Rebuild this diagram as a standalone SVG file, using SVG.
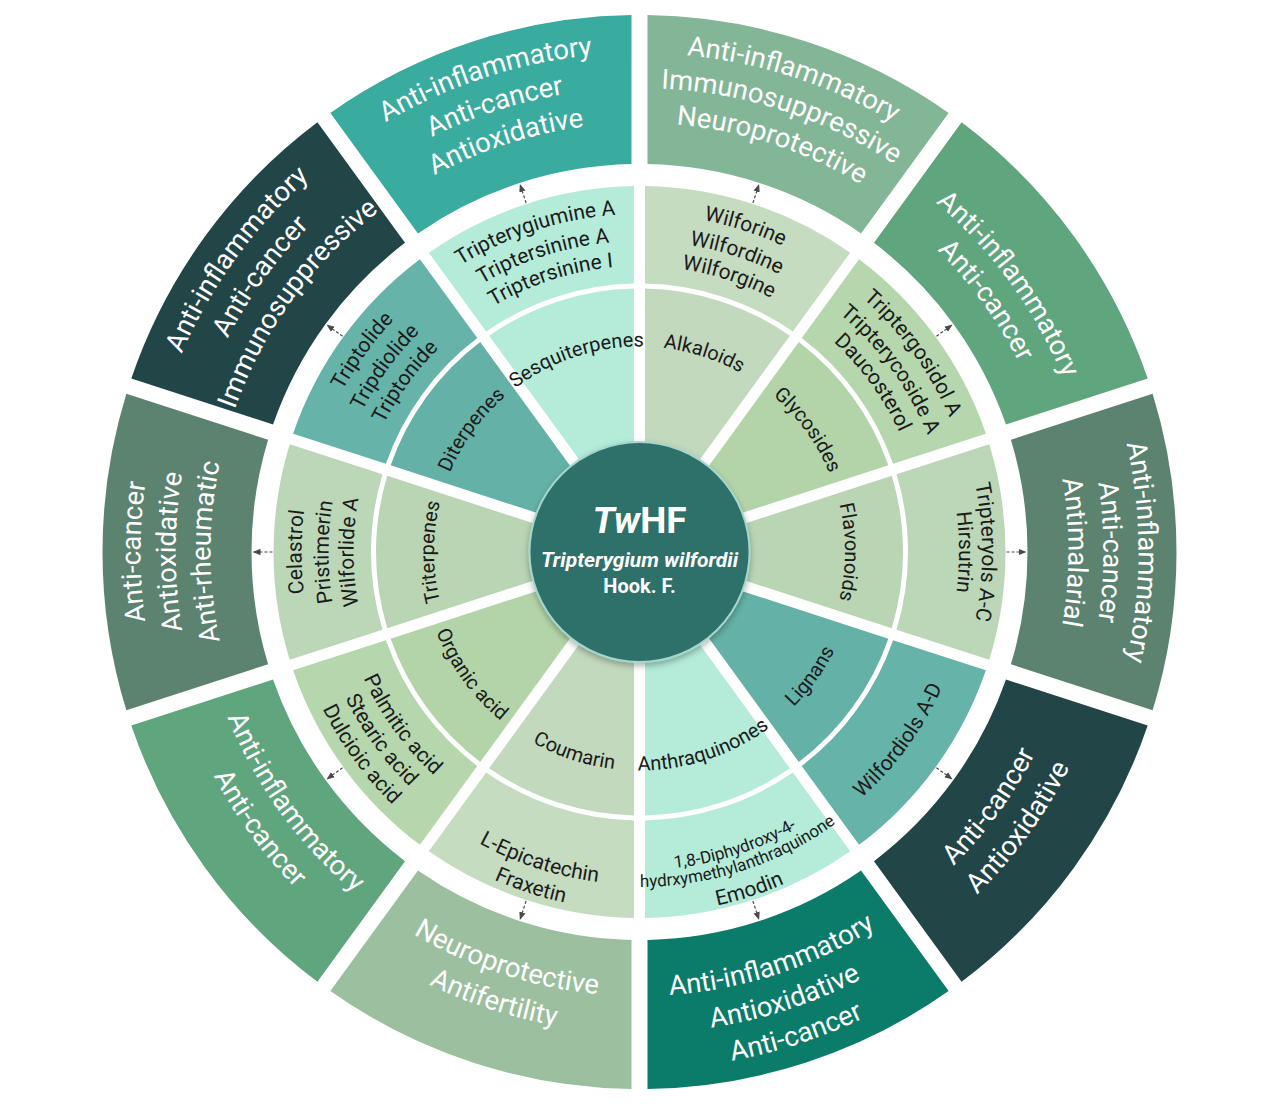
<svg xmlns="http://www.w3.org/2000/svg" width="1280" height="1107" viewBox="0 0 1280 1107">
<style>
text{font-family:Roboto,"Liberation Sans",sans-serif}
.ot{font-size:27.5px;fill:#ffffff}
.mt{font-size:21px;fill:#1b1b1b}
.st{font-size:17px;fill:#1b1b1b}
.it{font-size:20px;fill:#1b1b1b}
.arr{stroke:#4a4a4a;stroke-width:1.2;stroke-dasharray:3 2;fill:none}
</style>
<defs>
<path id="secO" d="M -158.32 -513.13 A 537 537 0 0 1 158.32 -513.13 L 112.26 -371.41 A 388 388 0 0 0 -112.26 -371.41 Z"/>
<path id="secM" d="M -107.86 -349.75 A 366 366 0 0 1 107.86 -349.75 L 77.72 -257.00 A 268.5 268.5 0 0 0 -77.72 -257.00 Z"/>
<path id="secI" d="M 0 -17.8 L 76.18 -252.25 A 263.5 263.5 0 0 0 -76.18 -252.25 Z"/>
<path id="U499" d="M -352.85 -352.85 A 499 499 0 0 1 352.85 -352.85"/>
<path id="U464" d="M -328.10 -328.10 A 464 464 0 0 1 328.10 -328.10"/>
<path id="U429" d="M -303.35 -303.35 A 429 429 0 0 1 303.35 -303.35"/>
<path id="U458" d="M -323.86 -323.86 A 458 458 0 0 1 323.86 -323.86"/>
<path id="U424" d="M -299.81 -299.81 A 424 424 0 0 1 299.81 -299.81"/>
<path id="U338" d="M -239.00 -239.00 A 338 338 0 0 1 239.00 -239.00"/>
<path id="U311" d="M -219.91 -219.91 A 311 311 0 0 1 219.91 -219.91"/>
<path id="U286" d="M -202.23 -202.23 A 286 286 0 0 1 202.23 -202.23"/>
<path id="U342" d="M -242.19 -242.19 A 342.5 342.5 0 0 1 242.19 -242.19"/>
<path id="U319" d="M -225.92 -225.92 A 319.5 319.5 0 0 1 225.92 -225.92"/>
<path id="U205" d="M -145.31 -145.31 A 205.5 205.5 0 0 1 145.31 -145.31"/>
<path id="F443" d="M -313.96 313.96 A 444 444 0 0 0 313.96 313.96"/>
<path id="F479" d="M -340.12 340.12 A 481 481 0 0 0 340.12 340.12"/>
<path id="F515" d="M -365.57 365.57 A 517 517 0 0 0 365.57 365.57"/>
<path id="F331" d="M -234.41 234.41 A 331.5 331.5 0 0 0 234.41 234.41"/>
<path id="F332" d="M -235.11 235.11 A 332.5 332.5 0 0 0 235.11 235.11"/>
<path id="F358" d="M -253.50 253.50 A 358.5 358.5 0 0 0 253.50 253.50"/>
<path id="F303" d="M -214.61 214.61 A 303.5 303.5 0 0 0 214.61 214.61"/>
<path id="F328" d="M -232.29 232.29 A 328.5 328.5 0 0 0 232.29 232.29"/>
<path id="F353" d="M -249.96 249.96 A 353.5 353.5 0 0 0 249.96 249.96"/>
<path id="F218" d="M -154.50 154.50 A 218.5 218.5 0 0 0 154.50 154.50"/>
<path id="F318" d="M -224.86 224.86 A 318 318 0 0 0 224.86 224.86"/>
<path id="F335" d="M -236.88 236.88 A 335 335 0 0 0 236.88 236.88"/>
<path id="F362" d="M -255.97 255.97 A 362 362 0 0 0 255.97 255.97"/>
<marker id="ah" viewBox="0 0 8 8" refX="7" refY="4" markerWidth="8" markerHeight="8" markerUnits="userSpaceOnUse" orient="auto">
<path d="M0,0.8 L8,4 L0,7.2 Z" fill="#4a4a4a"/>
</marker>
<filter id="sh" x="-20%" y="-20%" width="140%" height="140%">
<feDropShadow dx="0" dy="3" stdDeviation="3" flood-color="#000" flood-opacity="0.3"/>
</filter>
</defs>
<rect width="1280" height="1107" fill="#ffffff"/>
<g transform="translate(639.5 552)">
<!-- segment 0 (18deg) -->
<g id="alkaloids-activity">
<use href="#secO" transform="rotate(18)" fill="#83b697"/>
<g transform="rotate(18)" class="ot">
<text><textPath href="#U499" startOffset="50%" text-anchor="middle">Anti-inflammatory</textPath></text>
<text><textPath href="#U464" startOffset="50%" text-anchor="middle">Immunosuppressive</textPath></text>
<text><textPath href="#U429" startOffset="50%" text-anchor="middle">Neuroprotective</textPath></text>
</g>
</g>
<g id="alkaloids-compounds">
<use href="#secM" transform="rotate(18)" fill="#c6dcc1"/>
<g transform="rotate(18)" class="mt">
<text><textPath href="#U338" startOffset="50%" text-anchor="middle">Wilforine</textPath></text>
<text><textPath href="#U311" startOffset="50%" text-anchor="middle">Wilfordine</textPath></text>
<text><textPath href="#U286" startOffset="50%" text-anchor="middle">Wilforgine</textPath></text>
</g>
</g>
<g id="alkaloids">
<use href="#secI" transform="rotate(18)" fill="#c3d9be"/>
<g transform="rotate(18)" class="it"><text><textPath href="#U205" startOffset="50%" text-anchor="middle">Alkaloids</textPath></text></g>
</g>
<!-- segment 1 (54deg) -->
<g id="glycosides-activity">
<use href="#secO" transform="rotate(54)" fill="#5fa67f"/>
<g transform="rotate(54)" class="ot">
<text><textPath href="#U458" startOffset="50%" text-anchor="middle">Anti-inflammatory</textPath></text>
<text><textPath href="#U424" startOffset="50%" text-anchor="middle">Anti-cancer</textPath></text>
</g>
</g>
<g id="glycosides-compounds">
<use href="#secM" transform="rotate(54)" fill="#b6d6ad"/>
<g transform="rotate(54)" class="mt">
<text><textPath href="#U338" startOffset="50%" text-anchor="middle">Triptergosidol A</textPath></text>
<text><textPath href="#U311" startOffset="50%" text-anchor="middle">Tripterycoside A</textPath></text>
<text><textPath href="#U286" startOffset="50%" text-anchor="middle">Daucosterol</textPath></text>
</g>
</g>
<g id="glycosides">
<use href="#secI" transform="rotate(54)" fill="#b3d4a9"/>
<g transform="rotate(54)" class="it"><text><textPath href="#U205" startOffset="50%" text-anchor="middle">Glycosides</textPath></text></g>
</g>
<!-- segment 2 (90deg) -->
<g id="flavonoids-activity">
<use href="#secO" transform="rotate(90)" fill="#5b8370"/>
<g transform="rotate(90)" class="ot">
<text><textPath href="#U499" startOffset="50%" text-anchor="middle">Anti-inflammatory</textPath></text>
<text><textPath href="#U464" startOffset="50%" text-anchor="middle">Anti-cancer</textPath></text>
<text><textPath href="#U429" startOffset="50%" text-anchor="middle">Antimalarial</textPath></text>
</g>
</g>
<g id="flavonoids-compounds">
<use href="#secM" transform="rotate(90)" fill="#bcd7b8"/>
<g transform="rotate(90)" class="mt">
<text><textPath href="#U342" startOffset="50%" text-anchor="middle">Tripteryols A-C</textPath></text>
<text><textPath href="#U319" startOffset="50%" text-anchor="middle">Hirsutrin</textPath></text>
</g>
</g>
<g id="flavonoids">
<use href="#secI" transform="rotate(90)" fill="#b9d5b4"/>
<g transform="rotate(90)" class="it"><text><textPath href="#U205" startOffset="50%" text-anchor="middle">Flavonoids</textPath></text></g>
</g>
<!-- segment 3 (126deg) -->
<g id="lignans-activity">
<use href="#secO" transform="rotate(126)" fill="#224548"/>
<g transform="rotate(-54)" class="ot">
<text><textPath href="#F443" startOffset="50%" text-anchor="middle">Anti-cancer</textPath></text>
<text><textPath href="#F479" startOffset="50%" text-anchor="middle">Antioxidative</textPath></text>
</g>
</g>
<g id="lignans-compounds">
<use href="#secM" transform="rotate(126)" fill="#66b4a9"/>
<g transform="rotate(-54)" class="mt">
<text><textPath href="#F331" startOffset="50%" text-anchor="middle">Wilfordiols A-D</textPath></text>
</g>
</g>
<g id="lignans">
<use href="#secI" transform="rotate(126)" fill="#64b2a7"/>
<g transform="rotate(-54)" class="it"><text><textPath href="#F218" startOffset="50%" text-anchor="middle">Lignans</textPath></text></g>
</g>
<!-- segment 4 (162deg) -->
<g id="anthraquinones-activity">
<use href="#secO" transform="rotate(162)" fill="#0b7b6a"/>
<g transform="rotate(-18)" class="ot">
<text><textPath href="#F443" startOffset="50%" text-anchor="middle">Anti-inflammatory</textPath></text>
<text><textPath href="#F479" startOffset="50%" text-anchor="middle">Antioxidative</textPath></text>
<text><textPath href="#F515" startOffset="50%" text-anchor="middle">Anti-cancer</textPath></text>
</g>
</g>
<g id="anthraquinones-compounds">
<use href="#secM" transform="rotate(162)" fill="#b4ecd9"/>
<g transform="rotate(-18)">
<text class="st"><textPath href="#F318" startOffset="50%" text-anchor="middle">1,8-Diphydroxy-4-</textPath></text>
<text class="st"><textPath href="#F335" startOffset="50%" text-anchor="middle">hydrxymethylanthraquinone</textPath></text>
<text class="mt"><textPath href="#F362" startOffset="50%" text-anchor="middle">Emodin</textPath></text>
</g>
</g>
<g id="anthraquinones">
<use href="#secI" transform="rotate(162)" fill="#b4ecd9"/>
<g transform="rotate(-18)" class="it"><text><textPath href="#F218" startOffset="50%" text-anchor="middle">Anthraquinones</textPath></text></g>
</g>
<!-- segment 5 (198deg) -->
<g id="coumarin-activity">
<use href="#secO" transform="rotate(198)" fill="#9bbf9f"/>
<g transform="rotate(18)" class="ot">
<text><textPath href="#F443" startOffset="50%" text-anchor="middle">Neuroprotective</textPath></text>
<text><textPath href="#F479" startOffset="50%" text-anchor="middle">Antifertility</textPath></text>
</g>
</g>
<g id="coumarin-compounds">
<use href="#secM" transform="rotate(198)" fill="#c6dcc1"/>
<g transform="rotate(18)" class="mt">
<text><textPath href="#F332" startOffset="50%" text-anchor="middle">L-Epicatechin</textPath></text>
<text><textPath href="#F358" startOffset="50%" text-anchor="middle">Fraxetin</textPath></text>
</g>
</g>
<g id="coumarin">
<use href="#secI" transform="rotate(198)" fill="#c3d9be"/>
<g transform="rotate(18)" class="it"><text><textPath href="#F218" startOffset="50%" text-anchor="middle">Coumarin</textPath></text></g>
</g>
<!-- segment 6 (234deg) -->
<g id="organic-acid-activity">
<use href="#secO" transform="rotate(234)" fill="#5fa67f"/>
<g transform="rotate(54)" class="ot">
<text><textPath href="#F443" startOffset="50%" text-anchor="middle">Anti-inflammatory</textPath></text>
<text><textPath href="#F479" startOffset="50%" text-anchor="middle">Anti-cancer</textPath></text>
</g>
</g>
<g id="organic-acid-compounds">
<use href="#secM" transform="rotate(234)" fill="#b6d6ad"/>
<g transform="rotate(54)" class="mt">
<text><textPath href="#F303" startOffset="50%" text-anchor="middle">Palmitic acid</textPath></text>
<text><textPath href="#F328" startOffset="50%" text-anchor="middle">Stearic acid</textPath></text>
<text><textPath href="#F353" startOffset="50%" text-anchor="middle">Dulcioic acid</textPath></text>
</g>
</g>
<g id="organic-acid">
<use href="#secI" transform="rotate(234)" fill="#b3d4a9"/>
<g transform="rotate(54)" class="it"><text><textPath href="#F218" startOffset="50%" text-anchor="middle">Organic acid</textPath></text></g>
</g>
<!-- segment 7 (270deg) -->
<g id="triterpenes-activity">
<use href="#secO" transform="rotate(270)" fill="#5b8370"/>
<g transform="rotate(270)" class="ot">
<text><textPath href="#U499" startOffset="50%" text-anchor="middle">Anti-cancer</textPath></text>
<text><textPath href="#U464" startOffset="50%" text-anchor="middle">Antioxidative</textPath></text>
<text><textPath href="#U429" startOffset="50%" text-anchor="middle">Anti-rheumatic</textPath></text>
</g>
</g>
<g id="triterpenes-compounds">
<use href="#secM" transform="rotate(270)" fill="#bcd7b8"/>
<g transform="rotate(270)" class="mt">
<text><textPath href="#U338" startOffset="50%" text-anchor="middle">Celastrol</textPath></text>
<text><textPath href="#U311" startOffset="50%" text-anchor="middle">Pristimerin</textPath></text>
<text><textPath href="#U286" startOffset="50%" text-anchor="middle">Wilforlide A</textPath></text>
</g>
</g>
<g id="triterpenes">
<use href="#secI" transform="rotate(270)" fill="#b9d5b4"/>
<g transform="rotate(270)" class="it"><text><textPath href="#U205" startOffset="50%" text-anchor="middle">Triterpenes</textPath></text></g>
</g>
<!-- segment 8 (306deg) -->
<g id="diterpenes-activity">
<use href="#secO" transform="rotate(306)" fill="#224548"/>
<g transform="rotate(306)" class="ot">
<text><textPath href="#U499" startOffset="50%" text-anchor="middle">Anti-inflammatory</textPath></text>
<text><textPath href="#U464" startOffset="50%" text-anchor="middle">Anti-cancer</textPath></text>
<text><textPath href="#U429" startOffset="50%" text-anchor="middle">Immunosuppressive</textPath></text>
</g>
</g>
<g id="diterpenes-compounds">
<use href="#secM" transform="rotate(306)" fill="#66b4a9"/>
<g transform="rotate(306)" class="mt">
<text><textPath href="#U338" startOffset="50%" text-anchor="middle">Triptolide</textPath></text>
<text><textPath href="#U311" startOffset="50%" text-anchor="middle">Tripdiolide</textPath></text>
<text><textPath href="#U286" startOffset="50%" text-anchor="middle">Triptonide</textPath></text>
</g>
</g>
<g id="diterpenes">
<use href="#secI" transform="rotate(306)" fill="#64b2a7"/>
<g transform="rotate(306)" class="it"><text><textPath href="#U205" startOffset="50%" text-anchor="middle">Diterpenes</textPath></text></g>
</g>
<!-- segment 9 (342deg) -->
<g id="sesquiterpenes-activity">
<use href="#secO" transform="rotate(342)" fill="#3aab9f"/>
<g transform="rotate(342)" class="ot">
<text><textPath href="#U499" startOffset="50%" text-anchor="middle">Anti-inflammatory</textPath></text>
<text><textPath href="#U464" startOffset="50%" text-anchor="middle">Anti-cancer</textPath></text>
<text><textPath href="#U429" startOffset="50%" text-anchor="middle">Antioxidative</textPath></text>
</g>
</g>
<g id="sesquiterpenes-compounds">
<use href="#secM" transform="rotate(342)" fill="#b4ecd9"/>
<g transform="rotate(342)" class="mt">
<text><textPath href="#U338" startOffset="50%" text-anchor="middle">Tripterygiumine A</textPath></text>
<text><textPath href="#U311" startOffset="50%" text-anchor="middle">Triptersinine A</textPath></text>
<text><textPath href="#U286" startOffset="50%" text-anchor="middle">Triptersinine I</textPath></text>
</g>
</g>
<g id="sesquiterpenes">
<use href="#secI" transform="rotate(342)" fill="#b4ecd9"/>
<g transform="rotate(342)" class="it"><text><textPath href="#U205" startOffset="50%" text-anchor="middle">Sesquiterpenes</textPath></text></g>
</g>
<!-- connectors -->
<g id="connectors">
<line class="arr" x1="0" y1="-367" x2="0" y2="-386" marker-end="url(#ah)" transform="rotate(18)"/>
<line class="arr" x1="0" y1="-367" x2="0" y2="-386" marker-end="url(#ah)" transform="rotate(54)"/>
<line class="arr" x1="0" y1="-367" x2="0" y2="-386" marker-end="url(#ah)" transform="rotate(90)"/>
<line class="arr" x1="0" y1="-367" x2="0" y2="-386" marker-end="url(#ah)" transform="rotate(126)"/>
<line class="arr" x1="0" y1="-367" x2="0" y2="-386" marker-end="url(#ah)" transform="rotate(162)"/>
<line class="arr" x1="0" y1="-367" x2="0" y2="-386" marker-end="url(#ah)" transform="rotate(198)"/>
<line class="arr" x1="0" y1="-367" x2="0" y2="-386" marker-end="url(#ah)" transform="rotate(234)"/>
<line class="arr" x1="0" y1="-367" x2="0" y2="-386" marker-end="url(#ah)" transform="rotate(270)"/>
<line class="arr" x1="0" y1="-367" x2="0" y2="-386" marker-end="url(#ah)" transform="rotate(306)"/>
<line class="arr" x1="0" y1="-367" x2="0" y2="-386" marker-end="url(#ah)" transform="rotate(342)"/>
</g>
<!-- center -->
<g id="center">
<circle r="110" fill="#2f6f6b" stroke="#a3d6cc" stroke-width="2" filter="url(#sh)"/>
<text x="0" y="-19" text-anchor="middle" font-size="37" font-weight="bold" fill="#ffffff"><tspan font-style="italic">Tw</tspan>HF</text>
<text x="0" y="15" text-anchor="middle" font-size="21" font-weight="bold" font-style="italic" fill="#ffffff">Tripterygium wilfordii</text>
<text x="0" y="41" text-anchor="middle" font-size="20" font-weight="bold" fill="#ffffff">Hook. F.</text>
</g>
</g>
</svg>
